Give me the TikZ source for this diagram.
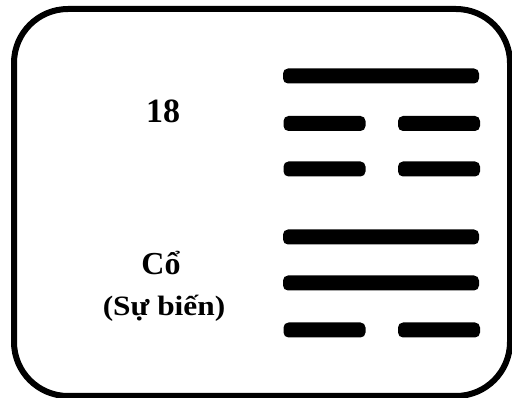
\documentclass[tikz,border=0pt]{standalone}
\usepackage{fontspec}
\setmainfont{Liberation Serif}
\begin{document}
\begin{tikzpicture}[x=1pt,y=-1pt,
  bar/.style={fill=black,draw=none,rounded corners=5pt,inner sep=0pt,minimum height=15pt},
  yang/.style={bar,minimum width=196pt},
  yin/.style={bar,minimum width=82pt},
  lbl/.style={inner sep=0pt,font=\bfseries}]
\useasboundingbox (0,0) rectangle (512,398);
\draw[line width=6pt,rounded corners=54pt] (14,9) rectangle (510,396);
% hexagram (top to bottom)
\node[yang] (l6) at (381,76) {};
\node[yin] (l5a) at (324.5,123.5) {};
\node[yin] (l5b) at (439,123.5) {};
\node[yin] (l4a) at (324.5,169) {};
\node[yin] (l4b) at (439,169) {};
\node[yang] (l3) at (381,237) {};
\node[yang] (l2) at (381,283) {};
\node[yin] (l1a) at (324.5,330) {};
\node[yin] (l1b) at (439,330) {};
% labels
\node[lbl,anchor=base,font=\bfseries\fontsize{34}{36}\selectfont] (num) at (163,123) {18};
\node[lbl,anchor=base,font=\bfseries\fontsize{32}{34}\selectfont] (name) at (161,275) {Cổ};
\node[lbl,anchor=base,font=\bfseries\fontsize{28}{30}\selectfont,xscale=1.12] (mean) at (164,316) {(Sự biến)};
\end{tikzpicture}
\end{document}
